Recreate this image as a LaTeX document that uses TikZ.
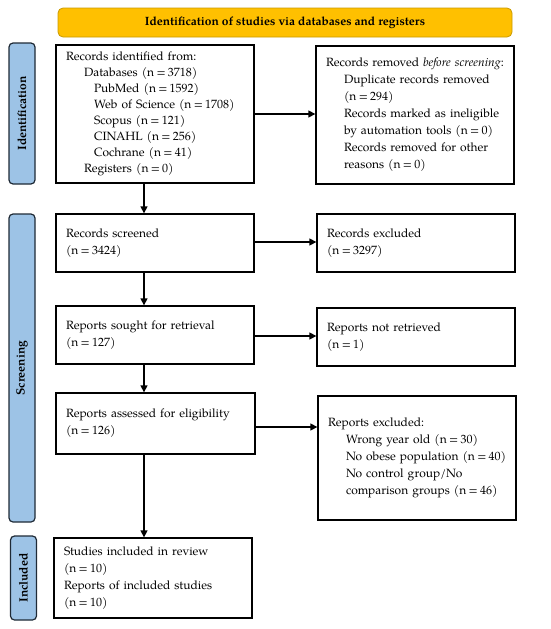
\documentclass[tikz,border=0pt]{standalone}
\usepackage{fontspec}
\setmainfont{TeX Gyre Pagella}
\usetikzlibrary{arrows.meta,calc}
\definecolor{bannerfill}{HTML}{FFC000}
\definecolor{bannerdraw}{HTML}{C99A00}
\definecolor{sidefill}{HTML}{9DC3E6}
\definecolor{sidedraw}{HTML}{1F2A36}
\tikzset{
  flowbox/.style={draw=black, line width=1.3pt, rectangle, inner xsep=10pt, inner ysep=2pt,
    align=left, font=\fontsize{12}{17}\selectfont, anchor=center},
  sidelabel/.style={draw=sidedraw, fill=sidefill, line width=1.2pt, rounded corners=4pt,
    minimum width=26pt, inner sep=0pt, font=\bfseries\fontsize{12}{14}\selectfont},
  banner/.style={draw=bannerdraw, fill=bannerfill, line width=0.8pt, rounded corners=5pt,
    minimum width=454pt, minimum height=29pt, inner sep=0pt, font=\bfseries\fontsize{12}{14}\selectfont},
  flowarrow/.style={line width=1.3pt, -{Triangle[length=7pt,width=7pt]}},
}
\newcommand{\ind}{\hspace*{18pt}}
\newcommand{\indd}{\hspace*{28pt}}
\newcommand{\nval}[1]{(n\hspace{2.3pt}=\hspace{2.3pt}#1)}
\begin{document}
\begin{tikzpicture}[x=1pt,y=-1pt]
\useasboundingbox (0,0) rectangle (550,629);
% banner
\node[banner] (ban) at (285,22.5) {Identification of studies via databases and registers};
% side labels
\node[sidelabel, minimum height=141pt] (sid) at (22,113.5) {\rotatebox{90}{Identification}};
\node[sidelabel, minimum height=308pt] (sscr) at (22,368) {\rotatebox{90}{Screening}};
\node[sidelabel, minimum height=84pt] (sinc) at (23.5,578) {\rotatebox{90}{Included}};
% boxes
\node[flowbox, minimum width=198pt, minimum height=138pt, text width=178pt,
  font=\fontsize{12}{16}\selectfont] (id) at (155,114)
  {Records identified from:\\
   \ind Databases \nval{3718}\\
   \indd PubMed \nval{1592}\\
   \indd Web of Science \nval{1708}\\
   \indd Scopus \nval{121}\\
   \indd CINAHL \nval{256}\\
   \indd Cochrane \nval{41}\\
   \ind Registers \nval{0}};
\node[flowbox, minimum width=198pt, minimum height=138pt, text width=178pt] (rem) at (415,115)
  {Records removed \emph{before screening}:\\
   \ind Duplicate records removed\\
   \ind \nval{294}\\
   \ind Records marked as ineligible\\
   \ind by automation tools \nval{0}\\
   \ind Records removed for other\\
   \ind reasons \nval{0}};
\node[flowbox, minimum width=198pt, minimum height=58pt, text width=178pt] (scr) at (155,243)
  {Records screened\\\nval{3424}};
\node[flowbox, minimum width=198pt, minimum height=58pt, text width=178pt] (exc) at (416,243)
  {Records excluded\\\nval{3297}};
\node[flowbox, minimum width=198pt, minimum height=58pt, text width=178pt] (sou) at (155,335)
  {Reports sought for retrieval\\\nval{127}};
\node[flowbox, minimum width=198pt, minimum height=58pt, text width=178pt] (ret) at (416,337)
  {Reports not retrieved\\\nval{1}};
\node[flowbox, minimum width=199pt, minimum height=61pt, text width=179pt] (ass) at (155.5,423.5)
  {Reports assessed for eligibility\\\nval{126}};
\node[flowbox, minimum width=198pt, minimum height=124pt, text width=178pt] (rex) at (417,458)
  {Reports excluded:\\
   \ind Wrong year old \nval{30}\\
   \ind \mbox{No obese population \nval{40}}\\
   \ind No control group/No\\
   \ind comparison groups \nval{46}};
\node[flowbox, minimum width=198pt, minimum height=80pt, text width=178pt] (inc) at (153,578)
  {Studies included in review\\\nval{10}\\Reports of included studies\\\nval{10}};
% arrows
\coordinate (ax) at (144,0);
\draw[flowarrow] (id.south -| ax) -- (scr.north -| ax);
\draw[flowarrow] (scr.south -| ax) -- (sou.north -| ax);
\draw[flowarrow] (sou.south -| ax) -- (ass.north -| ax);
\draw[flowarrow] (ass.south -| ax) -- (inc.north -| ax);
\coordinate (y1) at (0,114);
\draw[flowarrow] (id.east |- y1) -- (rem.west |- y1);
\coordinate (y2) at (0,242);
\draw[flowarrow] (scr.east |- y2) -- (exc.west |- y2);
\coordinate (y3) at (0,336);
\draw[flowarrow] (sou.east |- y3) -- (ret.west |- y3);
\coordinate (y4) at (0,427);
\draw[flowarrow] (ass.east |- y4) -- (rex.west |- y4);
\end{tikzpicture}
\end{document}
